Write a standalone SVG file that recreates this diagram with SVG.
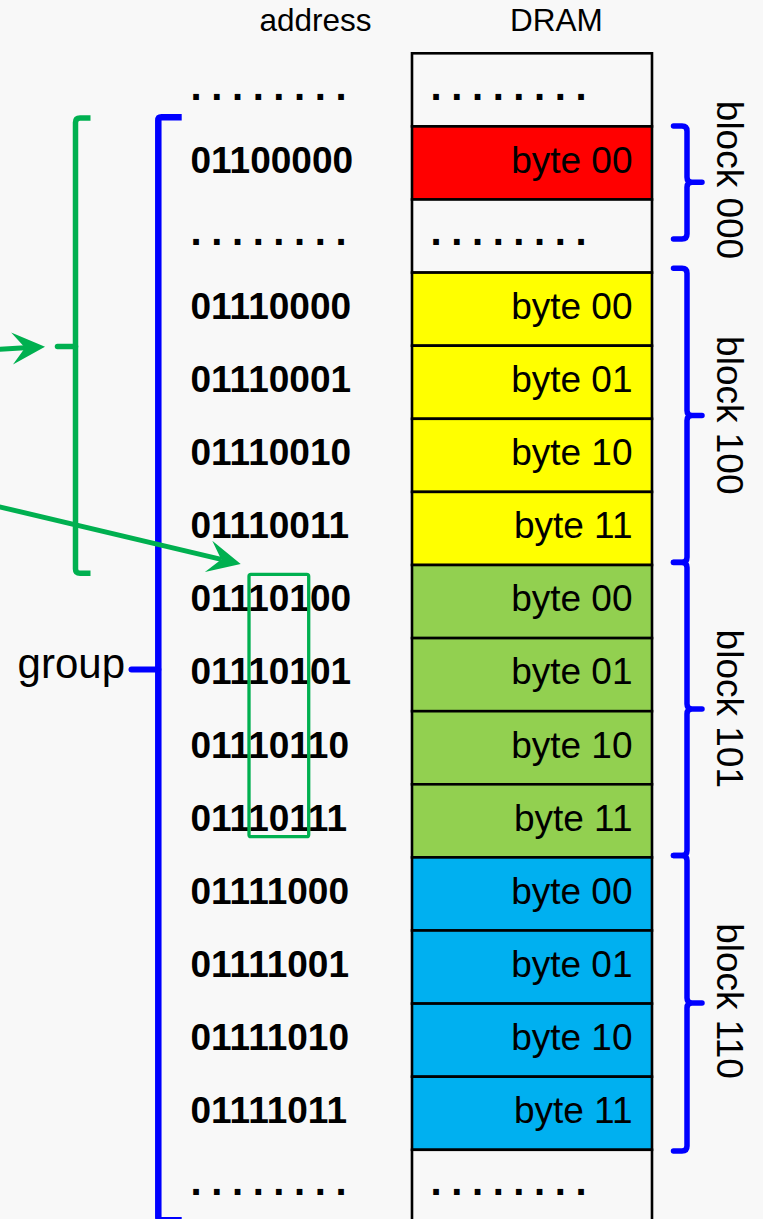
<svg xmlns="http://www.w3.org/2000/svg" width="763" height="1219" viewBox="0 0 763 1219">
<style>
text{font-family:"Liberation Sans",Arial,sans-serif;fill:#000}
.hdr{font-size:31.5px;text-anchor:middle}
.addr{font-size:37px;font-weight:bold}
.byte{font-size:37px;text-anchor:end}
.dots{font-size:40px;font-weight:bold;letter-spacing:9.6px}
.cell{stroke:#000;stroke-width:2.6}
.blank{fill:#F8F8F8}.red{fill:#FF0000}.yel{fill:#FFFF00}.grn{fill:#92D050}.blu{fill:#00B0F0}
.brace{fill:none;stroke:#0000FF;stroke-width:5.5;stroke-linecap:round;stroke-linejoin:round}
.blk{font-size:37px;text-anchor:middle}
.gline{fill:none;stroke:#00B050;stroke-width:5}
</style>
<defs>
<marker id="ah" markerUnits="userSpaceOnUse" orient="auto" markerWidth="1" markerHeight="1" overflow="visible">
<path d="M20,0 L-13,-16 L0,0 L-13,16 Z" fill="#00B050"/>
</marker>
</defs>
<rect width="763" height="1219" fill="#F8F8F8"/>

<g id="headers">
<text class="hdr" x="315.5" y="31">address</text>
<text class="hdr" x="556.3" y="30.5">DRAM</text>
</g>

<g id="row0"><rect class="cell blank" x="412" y="53.3" width="240" height="73.1"/><text class="dots" x="190.5" y="100">........</text><text class="dots" x="430.5" y="100">........</text></g>
<g id="row1"><rect class="cell red" x="412" y="126.4" width="240" height="73.1"/><text class="addr" x="190.5" y="172.9">01100000</text><text class="byte" x="632.5" y="172.9">byte 00</text></g>
<g id="row2"><rect class="cell blank" x="412" y="199.5" width="240" height="73.1"/><text class="dots" x="190.5" y="245">........</text><text class="dots" x="430.5" y="245">........</text></g>
<g id="row3"><rect class="cell yel" x="412" y="272.6" width="240" height="73.1"/><text class="addr" x="190.5" y="318.9">01110000</text><text class="byte" x="632.5" y="318.9">byte 00</text></g>
<g id="row4"><rect class="cell yel" x="412" y="345.7" width="240" height="73.1"/><text class="addr" x="190.5" y="392">01110001</text><text class="byte" x="632.5" y="392">byte 01</text></g>
<g id="row5"><rect class="cell yel" x="412" y="418.8" width="240" height="73.1"/><text class="addr" x="190.5" y="465.1">01110010</text><text class="byte" x="632.5" y="465.1">byte 10</text></g>
<g id="row6"><rect class="cell yel" x="412" y="491.9" width="240" height="73.1"/><text class="addr" x="190.5" y="538.2">01110011</text><text class="byte" x="632.5" y="538.2">byte 11</text></g>
<g id="row7"><rect class="cell grn" x="412" y="565" width="240" height="73.1"/><text class="addr" x="190.5" y="611.3">01110100</text><text class="byte" x="632.5" y="611.3">byte 00</text></g>
<g id="row8"><rect class="cell grn" x="412" y="638.1" width="240" height="73.1"/><text class="addr" x="190.5" y="684.4">01110101</text><text class="byte" x="632.5" y="684.4">byte 01</text></g>
<g id="row9"><rect class="cell grn" x="412" y="711.2" width="240" height="73.1"/><text class="addr" x="190.5" y="757.5">01110110</text><text class="byte" x="632.5" y="757.5">byte 10</text></g>
<g id="row10"><rect class="cell grn" x="412" y="784.3" width="240" height="73.1"/><text class="addr" x="190.5" y="830.6">01110111</text><text class="byte" x="632.5" y="830.6">byte 11</text></g>
<g id="row11"><rect class="cell blu" x="412" y="857.4" width="240" height="73.1"/><text class="addr" x="190.5" y="903.7">01111000</text><text class="byte" x="632.5" y="903.7">byte 00</text></g>
<g id="row12"><rect class="cell blu" x="412" y="930.5" width="240" height="73.1"/><text class="addr" x="190.5" y="976.8">01111001</text><text class="byte" x="632.5" y="976.8">byte 01</text></g>
<g id="row13"><rect class="cell blu" x="412" y="1003.6" width="240" height="73.1"/><text class="addr" x="190.5" y="1049.9">01111010</text><text class="byte" x="632.5" y="1049.9">byte 10</text></g>
<g id="row14"><rect class="cell blu" x="412" y="1076.7" width="240" height="73.1"/><text class="addr" x="190.5" y="1123">01111011</text><text class="byte" x="632.5" y="1123">byte 11</text></g>
<g id="row15"><rect class="cell blank" x="412" y="1149.8" width="240" height="90"/><text class="dots" x="190.5" y="1195">........</text><text class="dots" x="430.5" y="1195">........</text></g>

<g id="block000">
<path class="brace" d="M673.5,126 H682 Q687,126 687,131 V177.3 Q687,182.3 692,182.3 H702 M692,182.3 Q687,182.3 687,187.3 V234 Q687,239 682,239 H673.5"/>
<text class="blk" transform="translate(716.5,180) rotate(90)">block 000</text>
</g>
<g id="block100">
<path class="brace" d="M673.5,268.3 H682 Q687,268.3 687,273.3 V410.5 Q687,415.5 692,415.5 H702 M692,415.5 Q687,415.5 687,420.5 V557.3 Q687,562.3 682,562.3 H673.5"/>
<text class="blk" transform="translate(716.5,415.3) rotate(90)">block 100</text>
</g>
<g id="block101">
<path class="brace" d="M673.5,562.5 H682 Q687,562.5 687,567.5 V704 Q687,709 692,709 H702 M692,709 Q687,709 687,714 V850.5 Q687,855.5 682,855.5 H673.5"/>
<text class="blk" transform="translate(716.5,708.8) rotate(90)">block 101</text>
</g>
<g id="block110">
<path class="brace" d="M673.5,855.5 H682 Q687,855.5 687,860.5 V998 Q687,1003 692,1003 H702 M692,1003 Q687,1003 687,1008 V1146 Q687,1151 682,1151 H673.5"/>
<text class="blk" transform="translate(716.5,1001) rotate(90)">block 110</text>
</g>

<g id="group">
<path d="M181.7,117.3 H161.5 Q158.3,117.3 158.3,120.5 V1217 Q158.3,1220.3 161.5,1220.3 H181.7" fill="none" stroke="#0000FF" stroke-width="6.5"/>
<path d="M131.5,669.5 H158.3" fill="none" stroke="#0000FF" stroke-width="6" stroke-linecap="round"/>
<text x="125" y="678" font-size="42" text-anchor="end">group</text>
</g>

<g id="green-bracket">
<path d="M90.5,118 H80 Q75.5,118 75.5,122.5 V569 Q75.5,573.3 80,573.3 H90.5" fill="none" stroke="#00B050" stroke-width="5.5"/>
<path d="M57.5,346.5 H75.5" fill="none" stroke="#00B050" stroke-width="5.5" stroke-linecap="round"/>
</g>

<g id="green-box">
<rect x="249" y="574.3" width="59.7" height="262.4" rx="2" fill="none" stroke="#00B050" stroke-width="3.3"/>
</g>

<g id="connectors">
<path class="gline" d="M-2,349.4 L25.04,347.85" marker-end="url(#ah)"/>
<path class="gline" d="M-2,506.5 L221.24,559.39" marker-end="url(#ah)"/>
</g>
</svg>
